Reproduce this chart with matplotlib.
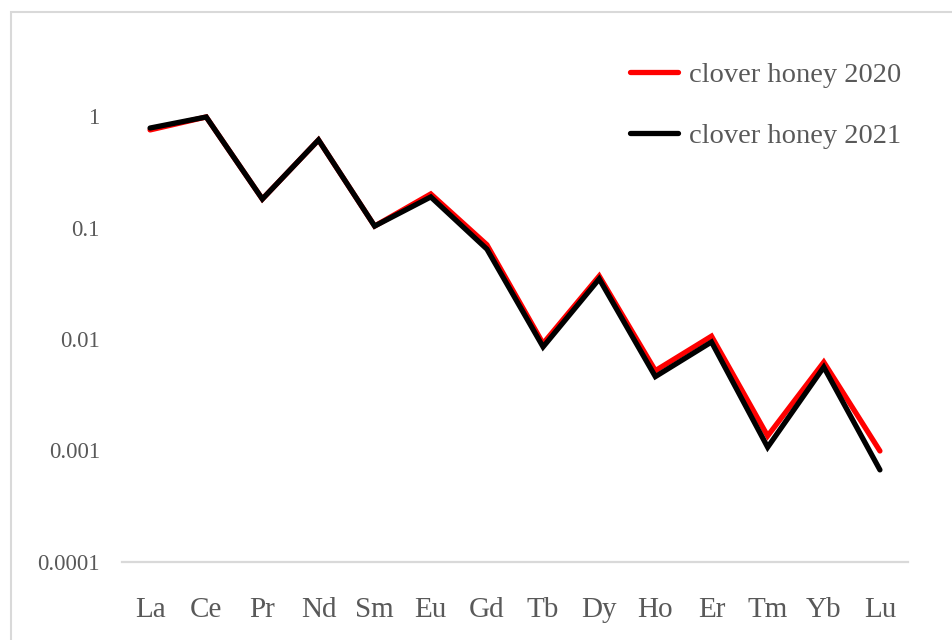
import numpy as np
import matplotlib.pyplot as plt
from matplotlib.patches import Rectangle

plt.rcParams['font.family'] = ['Liberation Serif', 'DejaVu Serif']

# 希土類元素
elements = ['La', 'Ce', 'Pr', 'Nd', 'Sm', 'Eu', 'Gd', 'Tb', 'Dy', 'Ho', 'Er', 'Tm', 'Yb', 'Lu']

honey_2020 = [0.75, 0.98, 0.18, 0.61, 0.103, 0.20, 0.070, 0.0091, 0.0367,
              0.0052, 0.0106, 0.00135, 0.0062, 0.00099]
honey_2021 = [0.78, 0.98, 0.18, 0.61, 0.103, 0.188, 0.064, 0.0085, 0.0346,
              0.0046, 0.0094, 0.00107, 0.0056, 0.00067]

ytick_vals = [1e-4, 1e-3, 1e-2, 1e-1, 1]
ytick_labels = ['0.0001', '0.001', '0.01', '0.1', '1']

txt = '#595959'
W, H = 953, 640

fig = plt.figure(figsize=(W / 100, H / 100), dpi=100)
ax = fig.add_axes([122 / W, 1 - 562 / H, (908 - 122) / W, (562 - 4.5) / H])

x = np.arange(len(elements))
ax.plot(x, honey_2020, color='#ff0000', lw=3.8, solid_capstyle='round',
        solid_joinstyle='miter', label='clover honey 2020', clip_on=False)
ax.plot(x, honey_2021, color='#000000', lw=3.8, solid_capstyle='round',
        solid_joinstyle='miter', label='clover honey 2021', clip_on=False)

ax.set_yscale('log')
ax.set_ylim(1e-4, 10)
ax.set_xlim(-0.5, len(elements) - 0.5)
ax.set_yticks(ytick_vals)
ax.set_yticklabels(ytick_labels)
ax.yaxis.set_minor_locator(plt.NullLocator())
ax.set_xticks(x)
ax.set_xticklabels(elements)

ax.tick_params(axis='y', length=0, pad=16, labelsize=16.5, labelcolor=txt)
ax.tick_params(axis='x', length=0, pad=25, labelsize=21, labelcolor=txt)

for s in ['top', 'right', 'left']:
    ax.spines[s].set_visible(False)
ax.spines['bottom'].set_color('#d9d9d9')
ax.spines['bottom'].set_linewidth(1.6)

leg = ax.legend(loc='upper left', bbox_to_anchor=(630 / W, 1 - 62 / H),
                bbox_transform=fig.transFigure, frameon=False, fontsize=20.5,
                borderpad=0, borderaxespad=0, handlelength=1.7,
                handletextpad=0.36, labelspacing=1.25)
for t in leg.get_texts():
    t.set_color(txt)

# 外枠
fig.patches.append(Rectangle((11.5 / W, -0.1), 1.1, 1 - 11.5 / H + 0.1,
                             transform=fig.transFigure, fill=False,
                             edgecolor='#d9d9d9', lw=1.5))

fig.savefig('out.png', dpi=100)
